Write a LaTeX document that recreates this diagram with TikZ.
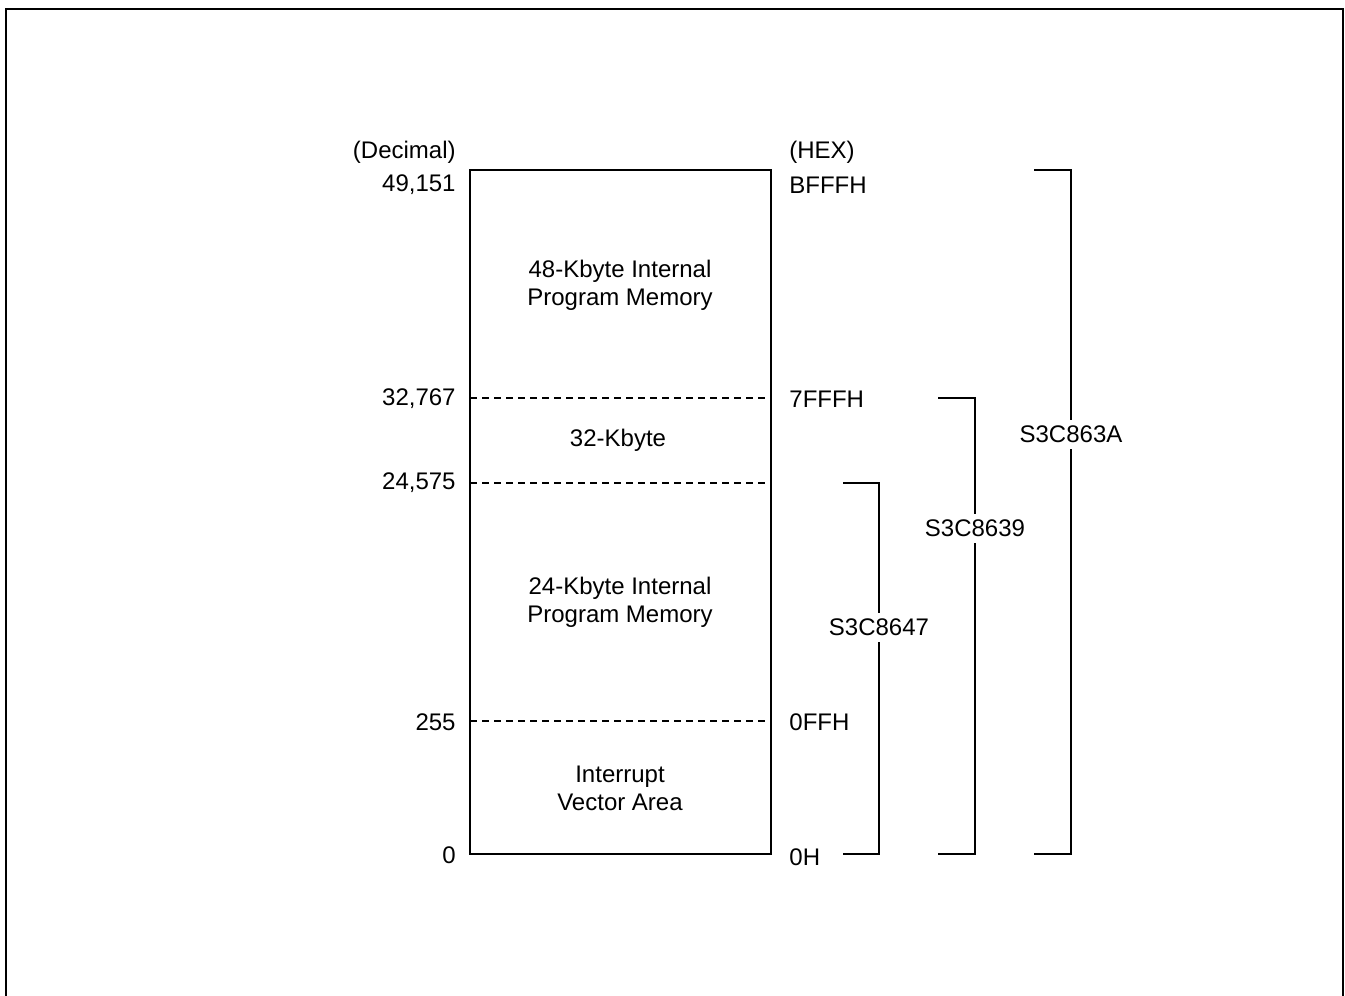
\documentclass[tikz,border=0pt]{standalone}
\usepackage{fontspec}
\setmainfont{Liberation Sans}
\begin{document}
\begin{tikzpicture}[x=0.5pt,y=-0.5pt,
  every node/.style={font=\fontsize{12pt}{14pt}\selectfont, inner sep=0pt},
  mem/.style={line width=1pt},
  sep/.style={line width=0.6pt, dash pattern=on 3.5pt off 2.5pt},
  brk/.style={line width=0.8pt},
  lbl/.style={fill=white, inner ysep=3pt, inner xsep=0pt},
  dec/.style={anchor=east},
  hex/.style={anchor=west},
  inside/.style={align=center}]
\useasboundingbox (0,0) rectangle (1345,996);
\draw[line width=1pt] (6,996) -- (6,9) -- (1343,9) -- (1343,996);
% memory box
\coordinate (tl) at (470,170);
\coordinate (br) at (771,854);
\draw[mem] (tl) rectangle (br);
\coordinate (a1) at (470,398); \coordinate (b1) at (771,398);
\coordinate (a2) at (470,483); \coordinate (b2) at (771,483);
\coordinate (a3) at (470,721); \coordinate (b3) at (771,721);
\draw[sep] (a1) -- (b1);
\draw[sep] (a2) -- (b2);
\draw[sep] (a3) -- (b3);
% headers
\node[dec] (hdec) at (456,152) {(Decimal)};
\node[hex] (hhex) at (789,152) {(HEX)};
% decimal labels
\node[dec] (d1) at (456,185) {49,151};
\node[dec] (d2) at (456,399) {32,767};
\node[dec] (d3) at (456,483) {24,575};
\node[dec] (d4) at (456,722) {255};
\node[dec] (d5) at (456,855) {0};
% hex labels
\node[hex] (h1) at (789,185) {BFFFH};
\node[hex] (h2) at (789,399) {7FFFH};
\node[hex] (h4) at (789,722) {0FFH};
\node[hex] (h5) at (789,857) {0H};
% inside labels
\node[inside] (m1) at (620,285) {48-Kbyte Internal\\Program Memory};
\node[inside] (m2) at (618,440) {32-Kbyte};
\node[inside] (m3) at (620,602) {24-Kbyte Internal\\Program Memory};
\node[inside] (m4) at (620,788) {Interrupt\\Vector Area};
% brackets
\coordinate (p1t) at (843,483); \coordinate (p1c) at (879,483);
\coordinate (p1d) at (879,854); \coordinate (p1b) at (843,854);
\draw[brk] (p1t) -- (p1c) -- (p1d) -- (p1b);
\node[lbl] (s1) at (879,627) {S3C8647};
\coordinate (p2t) at (938,398); \coordinate (p2c) at (975,398);
\coordinate (p2d) at (975,854); \coordinate (p2b) at (938,854);
\draw[brk] (p2t) -- (p2c) -- (p2d) -- (p2b);
\node[lbl] (s2) at (975,528) {S3C8639};
\coordinate (p3t) at (1034,170); \coordinate (p3c) at (1071,170);
\coordinate (p3d) at (1071,854); \coordinate (p3b) at (1034,854);
\draw[brk] (p3t) -- (p3c) -- (p3d) -- (p3b);
\node[lbl] (s3) at (1071,434) {S3C863A};
\end{tikzpicture}
\end{document}
